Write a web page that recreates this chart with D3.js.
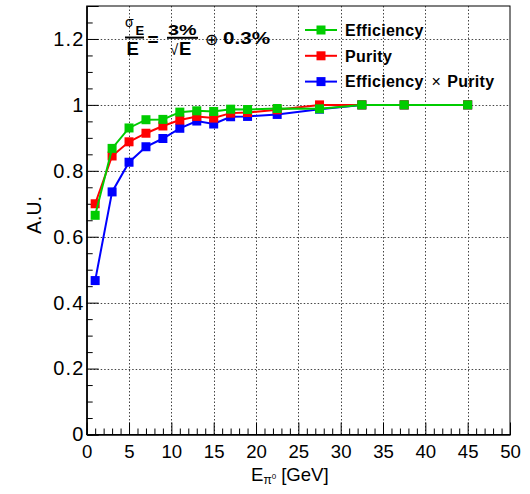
<!DOCTYPE html>
<html>
<head>
<meta charset="utf-8">
<script src="https://cdn.jsdelivr.net/npm/d3@7"></script>
<style>
  body { margin: 0; background: #fff; }
  svg { font-family: "Liberation Sans", Arial, Helvetica, sans-serif; }
</style>
</head>
<body>
<div id="chart"></div>
<script>
// energies (GeV) of each point
const energy = [1, 3, 5, 7, 9, 11, 13, 15, 17, 19, 22.5, 27.5, 32.5, 37.5, 45];
const efficiency = [0.665, 0.868, 0.930, 0.955, 0.956, 0.978, 0.982, 0.980, 0.987, 0.986, 0.989, 0.988, 1.0, 1.0, 1.0];
const purity = [0.700, 0.845, 0.888, 0.914, 0.936, 0.954, 0.965, 0.960, 0.975, 0.977, 0.985, 1.0, 1.0, 1.0, 1.0];
const effXpur = [0.467, 0.736, 0.826, 0.873, 0.898, 0.929, 0.951, 0.942, 0.964, 0.965, 0.971, 0.987, 1.0, 1.0, 1.0];

const xTicks = d3.range(0, 51, 5);
const yTicks = [0, 0.2, 0.4, 0.6, 0.8, 1, 1.2];

const series = [
  { name: "Efficiency \u00d7 Purity", values: effXpur, color: "#0000ff" },
  { name: "Purity", values: purity, color: "#ff0000" },
  { name: "Efficiency", values: efficiency, color: "#00cc00" }
];
const legendOrder = [2, 1, 0];

const W = 530, H = 494;
const m = { left: 86.7, right: 20, top: 6, bottom: 59.5 };

const svg = d3.select("#chart").append("svg").attr("width", W).attr("height", H);

var x = d3.scaleLinear().domain([0, 50]).range([m.left, W - m.right]);
var y = d3.scaleLinear().domain([0, 1.3]).range([H - m.bottom, m.top]);

// grid
var grid = svg.append("g").attr("stroke", "#444").attr("stroke-width", 1).attr("stroke-dasharray", "1.5,2");
grid.selectAll(".gx").data(xTicks.slice(1, -1)).enter().append("line")
  .attr("x1", d => Math.round(x(d)) + 0.5).attr("x2", d => Math.round(x(d)) + 0.5)
  .attr("y1", y(0)).attr("y2", y(1.3));
grid.selectAll(".gy").data(yTicks.slice(1)).enter().append("line")
  .attr("y1", d => Math.round(y(d)) + 0.5).attr("y2", d => Math.round(y(d)) + 0.5)
  .attr("x1", x(0)).attr("x2", x(50));

// frame
svg.append("rect").attr("x", x(0)).attr("y", y(1.3))
  .attr("width", x(50) - x(0)).attr("height", y(0) - y(1.3))
  .attr("fill", "none").attr("stroke", "#000").attr("stroke-width", 1);

// axes (ticks inside)
var xAxis = d3.axisBottom(x).tickValues(xTicks).tickSize(-12).tickPadding(10).tickFormat(d3.format("d"));
var gx = svg.append("g").attr("transform", `translate(0,${y(0)})`).call(xAxis);
gx.selectAll(".tick").filter(d => d === 0 || d === 50).select("line").remove();
svg.append("g").attr("transform", `translate(0,${y(0)})`)
  .call(d3.axisBottom(x).tickValues(d3.range(1, 50).filter(d => d % 5)).tickSize(-6).tickFormat(""));

var yAxis = d3.axisLeft(y).tickValues(yTicks).tickSize(-12).tickPadding(2).tickFormat(d => d === 0 ? "0" : d3.format("")(+d.toFixed(1)));
var gy = svg.append("g").attr("transform", `translate(${x(0)},0)`).call(yAxis);
svg.append("g").attr("transform", `translate(${x(0)},0)`)
  .call(d3.axisLeft(y).tickValues(d3.range(1, 26).filter(i => i % 4).map(i => i * 0.05)).tickSize(-6).tickFormat(""));

svg.selectAll(".domain").attr("stroke", "#000");
svg.selectAll(".tick line").attr("stroke", "#000");
svg.selectAll(".tick text").attr("font-size", 18.6).attr("fill", "#000")
  .attr("font-family", "Liberation Sans, Arial, sans-serif");
gy.selectAll(".tick text").attr("font-size", 20).attr("letter-spacing", 1.2);

// axis titles
var xt = svg.append("text").attr("x", 251).attr("y", 481).attr("font-size", 18.6);
xt.append("tspan").text("E");
xt.append("tspan").attr("font-size", 12).attr("dy", 3).text("\u03c0");
xt.append("tspan").attr("font-size", 8).attr("dy", -5).text("0");
xt.append("tspan").attr("dy", 2).attr("dx", 5).text("[GeV]");

svg.append("text").attr("transform", "translate(41,215) rotate(-90)")
  .attr("text-anchor", "middle").attr("font-size", 19.5).text("A.U.");

// lines and markers
var line = d3.line().x((d, i) => x(energy[i])).y(d => y(d));
series.forEach(s => {
  var g = svg.append("g");
  g.append("path").attr("d", line(s.values)).attr("fill", "none")
    .attr("stroke", s.color).attr("stroke-width", 2);
  g.selectAll("rect").data(s.values).enter().append("rect")
    .attr("x", (d, i) => x(energy[i]) - 4.5).attr("y", d => y(d) - 4.5)
    .attr("width", 9).attr("height", 9).attr("fill", s.color);
});

// legend
var leg = svg.append("g");
legendOrder.forEach((k, j) => {
  var s = series[k];
  var cy = 30 + j * 25.8;
  leg.append("line").attr("x1", 305).attr("x2", 337).attr("y1", cy).attr("y2", cy)
    .attr("stroke", s.color).attr("stroke-width", 2);
  leg.append("rect").attr("x", 321 - 4.5).attr("y", cy - 4.5).attr("width", 9).attr("height", 9).attr("fill", s.color);
  var t = leg.append("text").attr("x", 345).attr("y", cy + 5.8).attr("font-size", 16)
    .attr("font-weight", "bold").attr("letter-spacing", 0.3);
  if (k === 0) {
    t.append("tspan").text("Efficiency");
    t.append("tspan").attr("font-weight", "normal").attr("dx", 8).text("\u00d7");
    t.append("tspan").attr("dx", 6).text("Purity");
  } else {
    t.text(s.name);
  }
});

// resolution formula
var f = svg.append("g").attr("font-weight", "bold");
f.append("text").attr("x", 125).attr("y", 27).attr("font-size", 14).attr("font-weight", "normal").text("\u03c3");
f.append("text").attr("x", 135.5).attr("y", 35).attr("font-size", 13).text("E");
f.append("line").attr("x1", 125).attr("x2", 144).attr("y1", 37.5).attr("y2", 37.5).attr("stroke", "#000").attr("stroke-width", 2);
f.append("text").attr("x", 126.5).attr("y", 55).attr("font-size", 18.5).text("E");
f.append("text").attr("x", 147.5).attr("y", 45.5).attr("font-size", 19).text("=");
f.append("text").attr("x", 168).attr("y", 35).attr("font-size", 14)
  .attr("textLength", 28.5).attr("lengthAdjust", "spacingAndGlyphs").text("3%");
f.append("line").attr("x1", 167).attr("x2", 198).attr("y1", 37.8).attr("y2", 37.8).attr("stroke", "#000").attr("stroke-width", 2);
f.append("text").attr("x", 170).attr("y", 55).attr("font-size", 15).attr("font-weight", "normal").text("\u221a");
f.append("text").attr("x", 179).attr("y", 55).attr("font-size", 18.5).text("E");
f.append("text").attr("x", 211).attr("y", 39.5).attr("font-size", 16).attr("font-weight", "normal")
  .attr("text-anchor", "middle").attr("dominant-baseline", "central").text("\u2295");
f.append("text").attr("x", 223).attr("y", 43.5).attr("font-size", 16.3)
  .attr("textLength", 47).attr("lengthAdjust", "spacingAndGlyphs").text("0.3%");
</script>
</body>
</html>
